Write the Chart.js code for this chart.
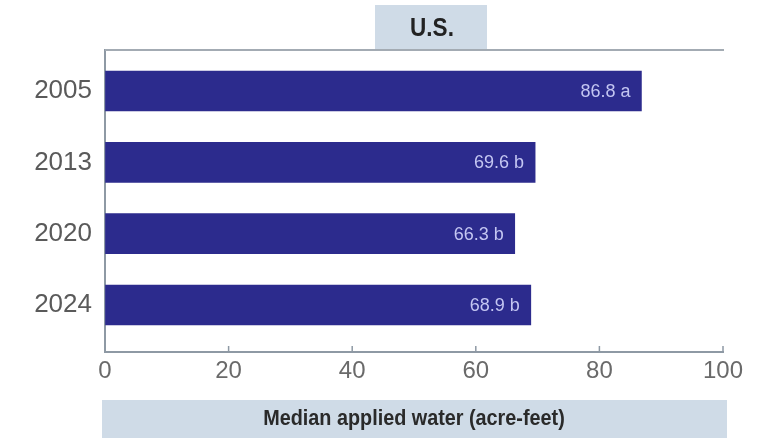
<!DOCTYPE html>
<html>
<head>
<meta charset="utf-8">
<script src="https://cdn.jsdelivr.net/npm/chart.js@4/dist/chart.umd.min.js"></script>
<style>
  html, body { margin: 0; padding: 0; background: #ffffff; }
  #wrap { width: 777px; height: 438px; position: relative; }
</style>
</head>
<body>
<div id="wrap"><canvas id="c" width="777" height="438"></canvas></div>
<script>
// Median applied water per farm, by survey year
const years = ['2005', '2013', '2020', '2024'];
const medianWater = [86.8, 69.6, 66.3, 68.9];
const sigLetters = ['a', 'b', 'b', 'b'];
const xTickValues = [0, 20, 40, 60, 80, 100];
const panelTitle = 'U.S.';
const axisTitle = 'Median applied water (acre-feet)';

const FONT = '"Liberation Sans", Arial, sans-serif';
const BAR = '#2c2b8d';
const AXIS = '#8e99a4';
const PANEL = '#cfdbe7';

// draws text squeezed horizontally, for the condensed panel captions
function narrowText(ctx, text, cx, cy, squeeze) {
  ctx.save();
  ctx.translate(cx, cy);
  ctx.scale(squeeze, 1);
  ctx.fillText(text, 0, 0);
  ctx.restore();
}

// Header box, footer box, top rule, inward ticks and value labels
const decor = {
  id: 'decor',
  afterDraw(chart) {
    const ctx = chart.ctx;
    const a = chart.chartArea;
    const xs = chart.scales.x;
    ctx.save();

    // top rule of the plot frame
    ctx.strokeStyle = '#a3abb3';
    ctx.lineWidth = 2;
    ctx.beginPath();
    ctx.moveTo(a.left, a.top);
    ctx.lineTo(a.right + 1, a.top);
    ctx.stroke();

    // header panel
    ctx.fillStyle = PANEL;
    ctx.fillRect(375, 5, 112, a.top - 6);
    ctx.fillStyle = '#222222';
    ctx.font = 'bold 25px ' + FONT;
    ctx.textAlign = 'center';
    ctx.textBaseline = 'middle';
    narrowText(ctx, panelTitle, 432, 29, 0.9);

    // small upward ticks on the value axis
    ctx.strokeStyle = AXIS;
    ctx.lineWidth = 1.5;
    xTickValues.forEach(v => {
      if (v === 0) return;
      const px = xs.getPixelForValue(v);
      ctx.beginPath();
      ctx.moveTo(px, a.bottom);
      ctx.lineTo(px, a.bottom - 6);
      ctx.stroke();
    });

    // footer panel with axis title
    ctx.fillStyle = PANEL;
    ctx.fillRect(102, 400, 625, 38);
    ctx.fillStyle = '#2a2a2a';
    ctx.font = 'bold 22px ' + FONT;
    narrowText(ctx, axisTitle, 414, 419, 0.9);

    // value labels inside the bars
    const meta = chart.getDatasetMeta(0);
    ctx.font = '18px ' + FONT;
    ctx.fillStyle = '#c4c6f2';
    ctx.textAlign = 'right';
    meta.data.forEach((bar, i) => {
      ctx.fillText(medianWater[i].toFixed(1) + ' ' + sigLetters[i], bar.x - 11, bar.y + 1);
    });
    ctx.restore();
  }
};

new Chart(document.getElementById('c'), {
  type: 'bar',
  data: {
    datasets: [{
      data: medianWater.map((v, i) => ({ x: v, y: i })),
      backgroundColor: BAR,
      borderWidth: 0,
      barThickness: 40
    }]
  },
  options: {
    indexAxis: 'y',
    responsive: false,
    animation: false,
    events: [],
    layout: { padding: { top: 50, right: 54, bottom: 0, left: 0 } },
    plugins: { legend: { display: false }, tooltip: { enabled: false } },
    scales: {
      x: {
        type: 'linear',
        min: 0,
        max: 100,
        afterBuildTicks(scale) { scale.ticks = xTickValues.map(v => ({ value: v })); },
        afterFit(scale) { scale.height = 86; scale.paddingLeft = 0; scale.paddingRight = 0; },
        grid: { display: true, drawOnChartArea: false, drawTicks: false },
        border: { display: true, color: AXIS, width: 2 },
        ticks: { padding: 5, color: '#6a6a6a', font: { family: FONT, size: 24 } }
      },
      y: {
        type: 'linear',
        reverse: true,
        offset: false,
        min: -0.575,
        max: 3.659,
        afterBuildTicks(scale) { scale.ticks = years.map((y, i) => ({ value: i })); },
        afterFit(scale) { scale.width = 105; scale.paddingTop = 0; scale.paddingBottom = 0; },
        grid: { display: true, offset: false, drawOnChartArea: false, drawTicks: false },
        border: { display: true, color: AXIS, width: 2 },
        ticks: {
          padding: 13,
          color: '#5a5a5a',
          font: { family: FONT, size: 26 },
          callback: (v) => years[Math.round(v)] || ''
        }
      }
    }
  },
  plugins: [decor]
});
</script>
</body>
</html>
